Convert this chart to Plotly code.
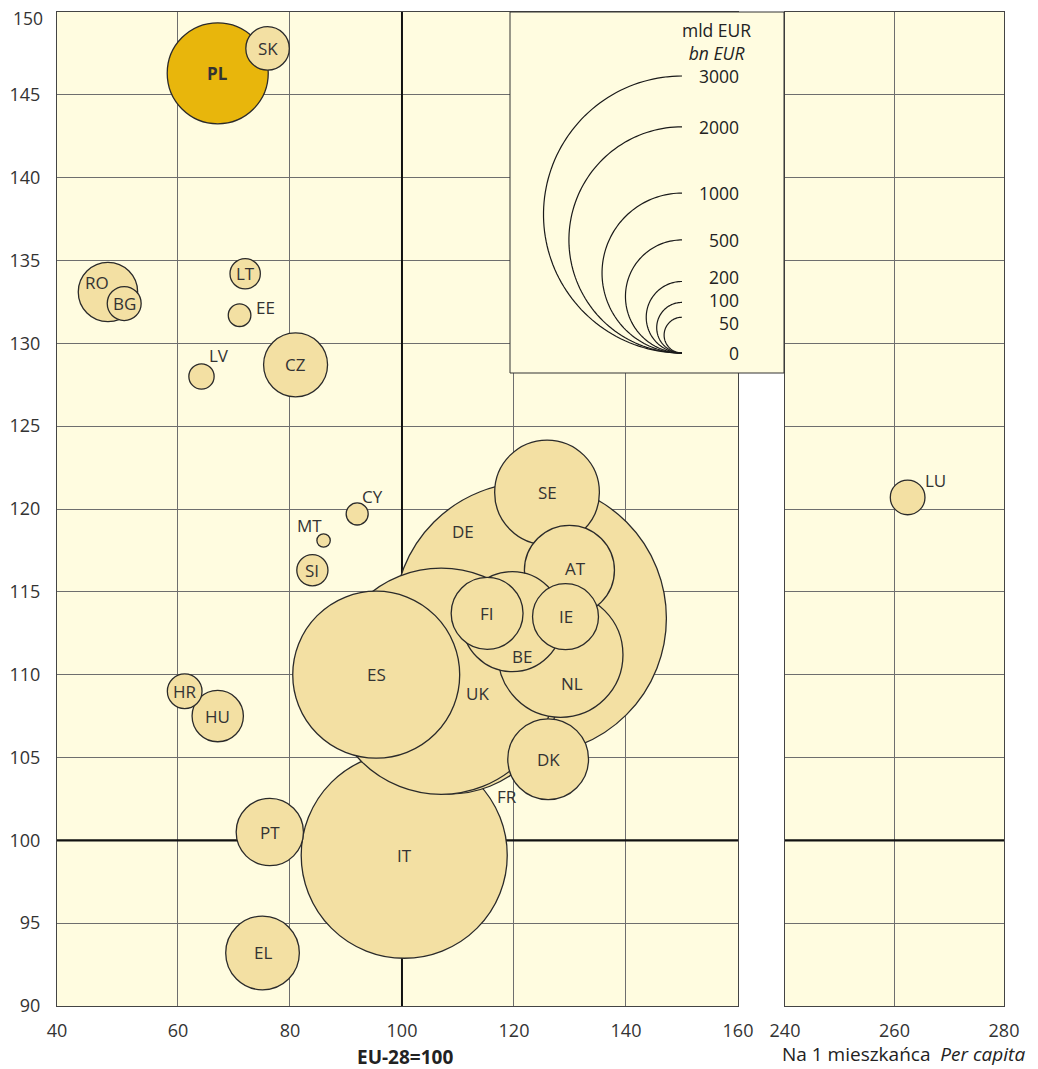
import numpy as np
import plotly.graph_objects as go

# ---------------- data ----------------
countries = ["DE", "IT", "FR", "UK", "ES", "NL", "SE", "AT", "DK", "BE", "FI", "IE",
             "PL", "EL", "PT", "CZ", "RO", "HU", "SK", "HR", "BG", "LT", "SI", "LV",
             "EE", "CY", "MT"]
# GDP per capita, EU-28 = 100
gdp_pc = [122.9, 100.4, 108.4, 107.0, 95.4, 128.3, 125.9, 129.9, 126.1, 119.7, 115.2, 129.2,
          67.1, 75.1, 76.4, 81.0, 47.5, 67.1, 76.0, 61.2, 50.4, 72.0, 84.0, 64.2,
          71.0, 92.0, 86.0]
# vertical index
index_y = [113.4, 99.1, 109.5, 109.6, 110.0, 111.2, 121.0, 116.3, 104.9, 113.2, 113.7, 113.5,
           146.3, 93.2, 100.5, 128.7, 133.1, 107.5, 147.8, 109.0, 132.4, 134.2, 116.3, 128.0,
           131.7, 119.7, 118.1]
# GDP, bn EUR (bubble area)
gdp_bn = [2900, 1660, 1930, 2000, 1090, 611, 429, 317, 255, 391, 202, 170,
          399, 212, 177, 160, 138, 103, 74, 47, 45, 36, 38, 25,
          20, 19, 7]

lu_name = ["LU"]
lu_pc = [262.4]
lu_y = [120.7]
lu_bn = [47]

legend_values = [3000, 2000, 1000, 500, 200, 100, 50, 0]
legend_stacked = [200, 100, 50]   # small values whose labels are set as one block
x_ticks_left = [60, 80, 100, 120, 140, 160]
x_ticks_right = [240, 260, 280]
y_ticks = [90, 95, 100, 105, 110, 115, 120, 125, 130, 135, 140, 145, 150]

# ---------------- styling ----------------
FONT = "Open Sans"
BG = "#FFFCE0"
FILL = "#F3E0A3"
FILL_PL = "#E8B60C"
EDGE = "#2a2a2a"
TXT = "#333333"
GRID = "#6e6e6e"

K = 277 / np.sqrt(3000)  # px diameter per sqrt(bn EUR)

# page body margin offsets the figure by 8px
OFF = 8
W, H = 1038 - OFF, 1069 - OFF
PL_X0, PL_X1, PL_Y0, PL_Y1 = 57, 1004, 12, 1006   # plot area in window px
ML, MT = PL_X0 - OFF, PL_Y0 - OFF
MR = W - ML - (PL_X1 - PL_X0)
MB = H - MT - (PL_Y1 - PL_Y0)
PW, PH = PL_X1 - PL_X0, PL_Y1 - PL_Y0


def to_paper(px, py):
    return (px - PL_X0) / PW, (PL_Y1 - py) / PH


# label offsets in screen px (dx right, dy down)
label_offsets = {"RO": (-11, -9), "EE": (26, -8), "LV": (18, -21), "CY": (15, -17),
                 "MT": (-14, -15), "DE": (-67, -87), "BE": (10, 35), "NL": (12, 29),
                 "UK": (36, 12), "FR": (58, 114), "LU": (28, -17), "AT": (6, -2)}

fig = go.Figure()

colors = [FILL_PL if c == "PL" else FILL for c in countries]
sizes = [K * np.sqrt(v) for v in gdp_bn]
fig.add_trace(go.Scatter(
    x=gdp_pc, y=index_y, mode="markers",
    marker=dict(size=sizes, sizemode="diameter", color=colors, opacity=1,
                line=dict(color=EDGE, width=1.3)),
    xaxis="x", yaxis="y", hoverinfo="text", text=countries, showlegend=False))

fig.add_trace(go.Scatter(
    x=lu_pc, y=lu_y, mode="markers",
    marker=dict(size=[K * np.sqrt(v) for v in lu_bn], sizemode="diameter", color=FILL,
                opacity=1, line=dict(color=EDGE, width=1.3)),
    xaxis="x2", yaxis="y2", hoverinfo="text", text=lu_name, showlegend=False))

annotations = []
for c, xv, yv in zip(countries, gdp_pc, index_y):
    dx, dy = label_offsets.get(c, (0, 0))
    annotations.append(dict(
        x=xv, y=yv, xref="x", yref="y", text=f"<b>{c}</b>" if c == "PL" else c,
        showarrow=False, xshift=dx, yshift=-dy,
        font=dict(family=FONT, size=17, color=TXT)))
for c, xv, yv in zip(lu_name, lu_pc, lu_y):
    dx, dy = label_offsets.get(c, (0, 0))
    annotations.append(dict(
        x=xv, y=yv, xref="x2", yref="y2", text=c, showarrow=False,
        xshift=dx, yshift=-dy, font=dict(family=FONT, size=17, color=TXT)))

shapes = []
# thick reference lines at 100
shapes.append(dict(type="line", xref="x", yref="y", x0=100, x1=100, y0=90, y1=150,
                   line=dict(color="#111111", width=2), layer="between"))
shapes.append(dict(type="line", xref="x", yref="y", x0=38.4, x1=160, y0=100, y1=100,
                   line=dict(color="#111111", width=2.4), layer="between"))
shapes.append(dict(type="line", xref="x2", yref="y2", x0=240, x1=280, y0=100, y1=100,
                   line=dict(color="#111111", width=2.4), layer="between"))

# size legend box
bx0, by0 = to_paper(510, 373)
bx1, by1 = to_paper(784, 12)
shapes.append(dict(type="rect", xref="paper", yref="paper", x0=bx0, x1=bx1, y0=by0, y1=by1,
                   fillcolor=BG, line=dict(color="#333333", width=1), layer="above"))

BASE_X, BASE_Y = 682, 353
LEG_FONT = dict(family=FONT, size=17.5, color="#222222")
for v in legend_values:
    d = K * np.sqrt(v)
    r = d / 2
    if v > 0:
        t = np.linspace(0, np.pi, 90)
        xs = BASE_X - r * np.sin(t)
        ys = (BASE_Y - r) + r * np.cos(t)
        pts = [to_paper(a, b) for a, b in zip(xs, ys)]
        path = "M " + " L ".join(f"{p[0]:.5f},{p[1]:.5f}" for p in pts)
        shapes.append(dict(type="path", xref="paper", yref="paper", path=path,
                           line=dict(color="#1a1a1a", width=1.2), layer="above"))
    if v in legend_stacked:
        continue
    lx, ly = to_paper(741, BASE_Y - d)
    annotations.append(dict(x=lx, y=ly, xref="paper", yref="paper", text=str(v),
                            showarrow=False, xanchor="right", yanchor="middle",
                            font=LEG_FONT))

# stacked labels for the smallest circles, centred on their mean top position
mid = np.mean([BASE_Y - K * np.sqrt(v) for v in legend_stacked])
lx, ly = to_paper(741, mid)
annotations.append(dict(x=lx, y=ly, xref="paper", yref="paper",
                        text="<br>".join(str(v) for v in legend_stacked),
                        showarrow=False, xanchor="right", yanchor="middle", align="right",
                        font=LEG_FONT))

tx, ty = to_paper(716, 41)
annotations.append(dict(x=tx, y=ty, xref="paper", yref="paper",
                        text="mld EUR<br><i>bn EUR</i>", align="center",
                        showarrow=False, xanchor="center", yanchor="middle",
                        font=dict(family=FONT, size=17.5, color="#222222")))

# top y tick label placed inside the page
tx, ty = to_paper(PL_X0 - 12, 18.5)
annotations.append(dict(x=tx, y=ty, xref="paper", yref="paper", text=str(y_ticks[-1]),
                        showarrow=False, xanchor="right", yanchor="middle",
                        font=dict(family=FONT, size=17.5, color=TXT)))

# axis titles
tx, ty = to_paper(405, 1057)
annotations.append(dict(x=tx, y=ty, xref="paper", yref="paper", text="<b>EU-28=100</b>",
                        showarrow=False, xanchor="center", yanchor="middle",
                        font=dict(family=FONT, size=19, color="#222222")))
tx, ty = to_paper(903, 1054)
annotations.append(dict(x=tx, y=ty, xref="paper", yref="paper",
                        text="Na 1 mieszkańca\u00a0\u00a0<i>Per capita</i>",
                        showarrow=False, xanchor="center", yanchor="middle",
                        font=dict(family=FONT, size=19, color="#222222")))

split_l = (738 - PL_X0) / PW
split_r = (785 - PL_X0) / PW

axis_common = dict(showline=True, mirror=True, linecolor="#444444", linewidth=1,
                   showgrid=True, gridcolor=GRID, gridwidth=1.3, zeroline=False,
                   automargin=False, ticks="", ticklabeloverflow="allow",
                   tickfont=dict(family=FONT, size=18, color=TXT))

fig.update_layout(
    width=W, height=H,
    margin=dict(l=ML, r=MR, t=MT, b=MB, autoexpand=False),
    paper_bgcolor="white", plot_bgcolor=BG,
    xaxis=dict(domain=[0, split_l], range=[38.4, 160], anchor="y", ticklabelstandoff=8,
               tickvals=[38.4] + x_ticks_left, ticktext=["40"] + [str(v) for v in x_ticks_left],
               **axis_common),
    yaxis=dict(domain=[0, 1], range=[90, 150], anchor="x", tickvals=y_ticks,
               ticktext=[str(v) for v in y_ticks[:-1]] + [""],
               ticklabelstandoff=12, **axis_common),
    xaxis2=dict(domain=[split_r, 1], range=[240, 280], anchor="y2", tickvals=x_ticks_right,
                ticklabelstandoff=8, **axis_common),
    yaxis2=dict(domain=[0, 1], range=[90, 150], anchor="x2", tickvals=y_ticks,
                showticklabels=False, **{k: v for k, v in axis_common.items() if k != "tickfont"}),
    shapes=shapes, annotations=annotations, showlegend=False,
)

fig.write_html("out.html")
